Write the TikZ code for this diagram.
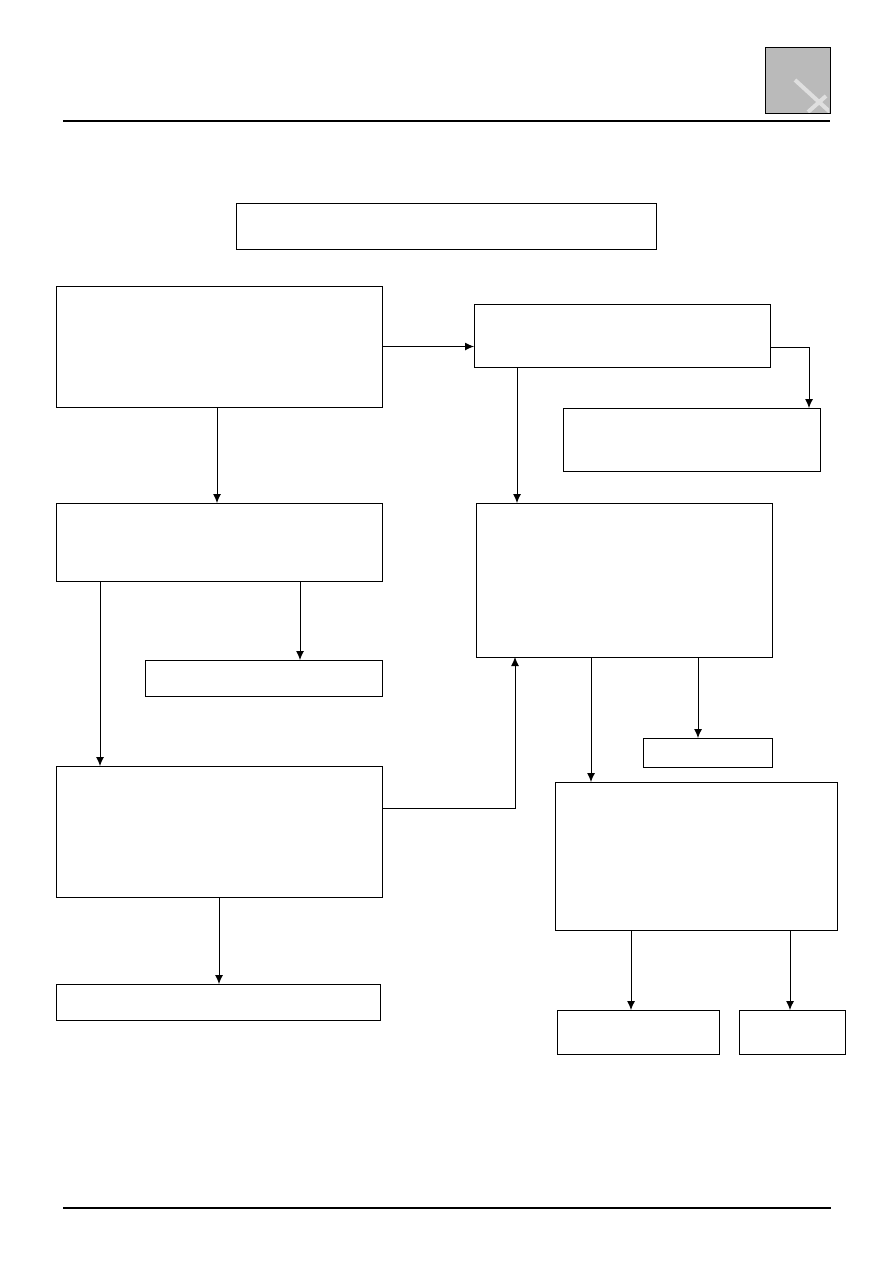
\documentclass[tikz,border=0pt]{standalone}
\usetikzlibrary{arrows.meta}
\begin{document}
\begin{tikzpicture}[x=1pt,y=-1pt,
  box/.style={draw,line width=1pt,inner sep=0,outer sep=0,anchor=north west},
  arr/.style={line width=0.9pt,-{Latex[length=9pt,width=8pt]}}]
\useasboundingbox (0,0) rectangle (893,1263);
% header / footer
\draw[line width=2pt] (63,121) -- (830,121);
\draw[line width=2pt] (63,1208) -- (831,1208);
\node[box,fill=black!27,minimum width=65pt,minimum height=65pt] (icon) at (765,48) {};
\begin{scope}
\clip (766,49) rectangle (829,112);
\draw[white!75!gray,line width=4pt] (795,80) -- (830,112) (826,96) -- (808,112);
\end{scope}
% boxes
\node[box,minimum width=420pt,minimum height=46pt] (A) at (236,203) {};
\node[box,minimum width=326pt,minimum height=121pt] (B) at (56,286) {};
\node[box,minimum width=296pt,minimum height=63pt] (C) at (474,304) {};
\node[box,minimum width=257pt,minimum height=63pt] (D) at (563,408) {};
\node[box,minimum width=326pt,minimum height=78pt] (E) at (56,503) {};
\node[box,minimum width=296pt,minimum height=154pt] (F) at (476,503) {};
\node[box,minimum width=237pt,minimum height=36pt] (G) at (145,660) {};
\node[box,minimum width=129pt,minimum height=29pt] (H) at (643,738) {};
\node[box,minimum width=326pt,minimum height=131pt] (I) at (56,766) {};
\node[box,minimum width=282pt,minimum height=148pt] (J) at (555,782) {};
\node[box,minimum width=324pt,minimum height=36pt] (K) at (56,984) {};
\node[box,minimum width=162pt,minimum height=44pt] (L) at (557,1010) {};
\node[box,minimum width=106pt,minimum height=44pt] (M) at (739,1010) {};
% connectors
\draw[arr] (B.east) -- (B.east -| C.west);
\draw[arr] ([yshift=-11.5]C.east) -| ([xshift=-11]D.north east);
\draw[arr] ([xshift=43]C.south west) -- ([xshift=43]C.south west |- F.north);
\draw[arr] ([xshift=161]B.south west) -- ([xshift=161]B.south west |- E.north);
\draw[arr] ([xshift=244]E.south west) -- ([xshift=244]E.south west |- G.north);
\draw[arr] ([xshift=44]E.south west) -- ([xshift=44]E.south west |- I.north);
\draw[arr] ([yshift=23.5]I.east) -| ([xshift=39]F.south west);
\draw[arr] ([xshift=115]F.south west) -- ([xshift=115]F.south west |- J.north);
\draw[arr] ([xshift=222]F.south west) -- ([xshift=222]F.south west |- H.north);
\draw[arr] ([xshift=163]I.south west) -- ([xshift=163]I.south west |- K.north);
\draw[arr] ([xshift=76]J.south west) -- ([xshift=76]J.south west |- L.north);
\draw[arr] ([xshift=235]J.south west) -- ([xshift=235]J.south west |- M.north);
\end{tikzpicture}
\end{document}
